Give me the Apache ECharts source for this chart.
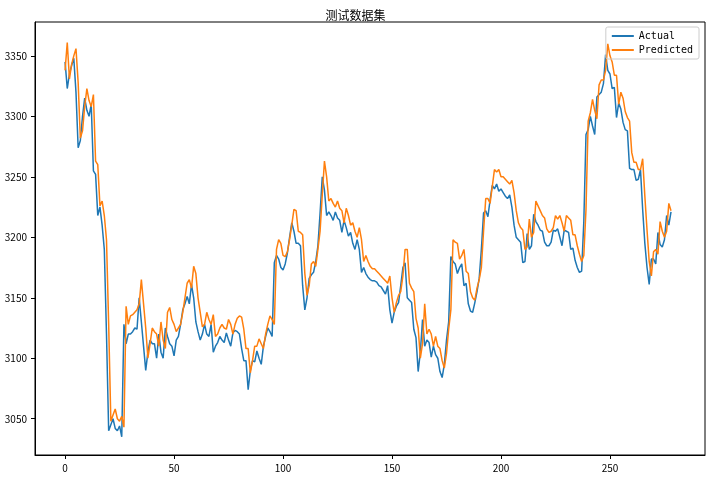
<!DOCTYPE html><html><head><meta charset="utf-8"><script src="https://cdn.jsdelivr.net/npm/echarts@6/dist/echarts.min.js"></script>
<style>html,body{margin:0;background:#fff}#c{width:711px;height:479px}</style></head><body><div id="c"></div><script>
const actual=[3345,3323,3335,3342,3348,3320,3274,3280,3300,3315,3305,3300,3310,3255,3252,3218,3225,3210,3190,3120,3040,3045,3050,3042,3040,3044,3035,3128,3112,3120,3120,3122,3125,3124,3150,3130,3110,3090,3105,3115,3112,3112,3100,3120,3105,3100,3125,3118,3112,3110,3102,3115,3118,3128,3140,3145,3151,3145,3161,3150,3130,3122,3115,3120,3128,3120,3118,3128,3105,3110,3113,3118,3115,3113,3121,3115,3110,3121,3123,3122,3120,3108,3098,3098,3074,3090,3098,3097,3106,3100,3095,3110,3118,3125,3122,3118,3179,3185,3182,3175,3173,3178,3187,3200,3212,3205,3195,3195,3193,3160,3140,3150,3166,3169,3171,3180,3193,3220,3250,3239,3218,3221,3218,3214,3221,3216,3214,3204,3214,3208,3201,3204,3195,3190,3198,3190,3171,3175,3170,3167,3165,3164,3164,3163,3160,3159,3156,3153,3160,3140,3129,3138,3143,3146,3160,3175,3179,3150,3148,3146,3124,3117,3089,3105,3132,3110,3115,3113,3101,3110,3103,3100,3089,3084,3095,3115,3130,3184,3180,3178,3170,3175,3178,3160,3162,3145,3139,3138,3146,3155,3166,3190,3220,3222,3217,3231,3243,3240,3244,3238,3240,3237,3234,3232,3235,3225,3210,3200,3198,3196,3179,3180,3203,3190,3193,3219,3213,3210,3206,3205,3196,3193,3193,3196,3206,3205,3207,3200,3193,3206,3205,3204,3190,3191,3181,3175,3171,3172,3213,3285,3289,3300,3292,3285,3316,3318,3320,3327,3351,3338,3335,3323,3324,3299,3311,3306,3295,3289,3288,3257,3256,3256,3247,3248,3256,3223,3195,3175,3161,3182,3182,3178,3204,3194,3192,3198,3218,3210,3221];
const predicted=[3338,3361,3331,3343,3350,3356,3328,3282,3288,3308,3323,3313,3308,3318,3263,3260,3226,3230,3218,3198,3128,3048,3053,3058,3050,3048,3052,3043,3143,3128,3135,3136,3138,3140,3145,3165,3145,3125,3100,3112,3125,3122,3120,3110,3130,3115,3108,3138,3142,3132,3128,3122,3125,3128,3138,3150,3162,3165,3158,3176,3170,3150,3138,3126,3128,3138,3132,3128,3136,3118,3120,3125,3128,3125,3124,3132,3128,3120,3128,3133,3135,3134,3124,3108,3108,3088,3098,3110,3110,3116,3112,3108,3120,3128,3135,3132,3128,3190,3198,3195,3185,3184,3188,3198,3210,3223,3222,3205,3204,3202,3170,3152,3160,3178,3180,3176,3190,3205,3235,3263,3250,3230,3232,3228,3225,3230,3224,3222,3212,3224,3218,3210,3212,3205,3200,3208,3198,3180,3185,3180,3176,3174,3174,3172,3170,3168,3166,3164,3162,3168,3150,3138,3146,3152,3155,3168,3190,3190,3162,3158,3155,3133,3125,3100,3112,3145,3120,3124,3120,3110,3118,3110,3108,3098,3092,3104,3124,3140,3198,3196,3195,3182,3185,3190,3172,3170,3155,3150,3148,3158,3165,3175,3205,3232,3232,3228,3242,3256,3254,3256,3250,3250,3248,3246,3244,3247,3237,3222,3212,3208,3206,3190,3192,3215,3200,3204,3230,3226,3222,3218,3216,3207,3204,3205,3208,3218,3215,3218,3212,3205,3218,3216,3214,3202,3202,3193,3186,3180,3185,3223,3296,3303,3314,3305,3298,3326,3330,3330,3338,3360,3350,3345,3334,3334,3310,3320,3315,3304,3299,3296,3270,3262,3262,3256,3256,3265,3234,3206,3180,3168,3188,3190,3186,3213,3205,3200,3205,3228,3222];
const xTicks=[0,50,100,150,200,250];
const yTicks=[3050,3100,3150,3200,3250,3300,3350];
const F='"Noto Sans CJK SC", "DejaVu Sans", sans-serif';
const ax={axisLine:{show:true,onZero:false,lineStyle:{color:'#000',width:1}},splitLine:{show:false},axisTick:{show:true,inside:false,length:4,lineStyle:{color:'#000'}},axisLabel:{color:'#000',fontSize:10,fontFamily:F,formatter:v=>String(v)}};
const c=echarts.init(document.getElementById('c'));
c.setOption({animation:false,
title:{text:'测试数据集',left:'center',top:4,textStyle:{fontSize:12,fontWeight:'normal',color:'#000',fontFamily:F}},
legend:{top:27,right:12,orient:'vertical',itemWidth:22,itemHeight:2,itemGap:4,padding:[4,6],borderColor:'#ccc',borderWidth:1,borderRadius:2,icon:'rect',textStyle:{fontSize:10,fontFamily:'"DejaVu Sans Mono", monospace',color:'#000'},data:['Actual','Predicted']},
grid:{left:35,right:6,top:22,bottom:24,show:true,borderColor:'#000',borderWidth:1},
xAxis:Object.assign({type:'value',min:-13.8,max:293.6},ax,{axisTick:Object.assign({},ax.axisTick,{customValues:xTicks}),axisLabel:Object.assign({},ax.axisLabel,{customValues:xTicks})}),
yAxis:Object.assign({type:'value',min:3020,max:3378},ax,{axisTick:Object.assign({},ax.axisTick,{customValues:yTicks}),axisLabel:Object.assign({},ax.axisLabel,{customValues:yTicks})}),
series:[
{name:'Actual',type:'line',showSymbol:false,lineStyle:{width:1.5,color:'#1f77b4'},itemStyle:{color:'#1f77b4'},data:actual.map((v,i)=>[i,v])},
{name:'Predicted',type:'line',showSymbol:false,lineStyle:{width:1.5,color:'#ff7f0e'},itemStyle:{color:'#ff7f0e'},data:predicted.map((v,i)=>[i,v])}
]});
</script></body></html>
